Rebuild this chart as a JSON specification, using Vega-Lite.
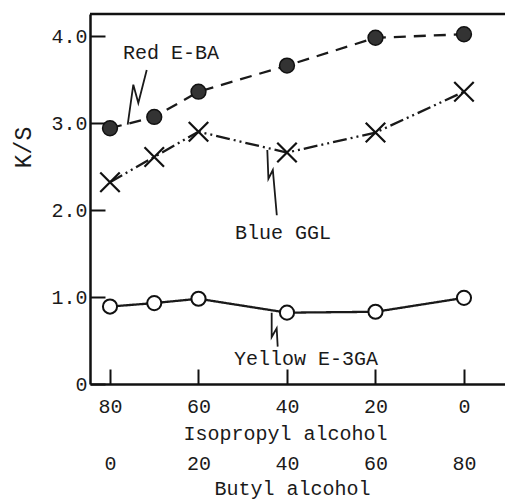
{
  "$schema": "https://vega.github.io/schema/vega-lite/v6.json",
  "width": 415,
  "height": 370,
  "autosize": {"type": "none"},
  "padding": {"left": 90, "top": 14, "right": 0, "bottom": 117},
  "background": "white",
  "config": {
    "view": {"stroke": null},
    "font": "Liberation Mono",
    "axis": {
      "labelFont": "Liberation Mono",
      "titleFont": "Liberation Mono",
      "labelFontSize": 20,
      "titleFontSize": 20,
      "titleFontWeight": "normal",
      "labelColor": "#1a1a1a",
      "titleColor": "#1a1a1a",
      "domainColor": "#111",
      "tickColor": "#111",
      "grid": false,
      "labelFlush": false,
      "labelOverlap": false
    }
  },
  "datasets": {
    "series": [
      {"series": "Red E-BA", "iso": 80, "ks": 2.94},
      {"series": "Red E-BA", "iso": 70, "ks": 3.07},
      {"series": "Red E-BA", "iso": 60, "ks": 3.36},
      {"series": "Red E-BA", "iso": 40, "ks": 3.66},
      {"series": "Red E-BA", "iso": 20, "ks": 3.98},
      {"series": "Red E-BA", "iso": 0, "ks": 4.02},
      {"series": "Blue GGL", "iso": 80, "ks": 2.32},
      {"series": "Blue GGL", "iso": 70, "ks": 2.61},
      {"series": "Blue GGL", "iso": 60, "ks": 2.9},
      {"series": "Blue GGL", "iso": 40, "ks": 2.66},
      {"series": "Blue GGL", "iso": 20, "ks": 2.89},
      {"series": "Blue GGL", "iso": 0, "ks": 3.36},
      {"series": "Yellow E-3GA", "iso": 80, "ks": 0.89},
      {"series": "Yellow E-3GA", "iso": 70, "ks": 0.93},
      {"series": "Yellow E-3GA", "iso": 60, "ks": 0.98},
      {"series": "Yellow E-3GA", "iso": 40, "ks": 0.82},
      {"series": "Yellow E-3GA", "iso": 20, "ks": 0.83},
      {"series": "Yellow E-3GA", "iso": 0, "ks": 0.99}
    ],
    "labels": [
      {"label": "Red E-BA", "iso": 66.2, "ks": 3.8},
      {"label": "Blue GGL", "iso": 40.9, "ks": 1.73},
      {"label": "Yellow E-3GA", "iso": 35.7, "ks": 0.29}
    ],
    "leaders": [
      {"grp": "r", "ord": 1, "iso": 76.0, "ks": 2.98},
      {"grp": "r", "ord": 2, "iso": 74.73, "ks": 3.44},
      {"grp": "r", "ord": 3, "iso": 73.6, "ks": 3.23},
      {"grp": "r", "ord": 4, "iso": 71.7, "ks": 3.61},
      {"grp": "b", "ord": 1, "iso": 44.45, "ks": 2.69},
      {"grp": "b", "ord": 2, "iso": 44.2, "ks": 2.36},
      {"grp": "b", "ord": 3, "iso": 43.2, "ks": 2.46},
      {"grp": "b", "ord": 4, "iso": 42.3, "ks": 1.94},
      {"grp": "y", "ord": 1, "iso": 43.46, "ks": 0.82},
      {"grp": "y", "ord": 2, "iso": 43.46, "ks": 0.54},
      {"grp": "y", "ord": 3, "iso": 42.33, "ks": 0.64},
      {"grp": "y", "ord": 4, "iso": 42.1, "ks": 0.43}
    ],
    "frame": [{"top": 4.253}]
  },
  "layer": [
    {
      "data": {"name": "series"},
      "mark": {"type": "line", "strokeWidth": 2.3, "color": "#1a1a1a"},
      "encoding": {
        "x": {
          "field": "iso", "type": "quantitative",
          "scale": {"domain": [-9.27, 84.52], "reverse": true, "nice": false, "zero": false},
          "axis": {
            "orient": "bottom",
            "values": [80, 60, 40, 20, 0],
            "format": "d",
            "tickSize": -15,
            "tickWidth": 2,
            "domainWidth": 2.5,
            "labelPadding": 27,
            "title": "Isopropyl alcohol",
            "titleX": 195,
            "titleY": 49,
            "titleBaseline": "middle",
            "titleAlign": "center"
          }
        },
        "y": {
          "field": "ks", "type": "quantitative",
          "scale": {"domain": [0, 4.253], "nice": false, "zero": false},
          "axis": {
            "values": [0, 1, 2, 3, 4],
            "labelExpr": "datum.value == 0 ? '0' : format(datum.value, '.1f')",
            "tickSize": -15,
            "tickWidth": 2,
            "domainWidth": 2.5,
            "labelPadding": 18,
            "title": "K/S",
            "titleFontSize": 23,
            "titleX": -67,
            "titleY": 133,
            "titleAngle": -90,
            "titleBaseline": "middle",
            "titleAlign": "center"
          }
        },
        "detail": {"field": "series"},
        "strokeDash": {
          "field": "series", "type": "nominal",
          "scale": {"domain": ["Red E-BA", "Blue GGL", "Yellow E-3GA"], "range": [[12, 8], [14, 4, 2, 4, 2, 4], [1, 0]]},
          "legend": null
        }
      }
    },
    {
      "data": {"name": "leaders"},
      "mark": {"type": "line", "strokeWidth": 1.8, "color": "#1a1a1a"},
      "encoding": {
        "x": {"field": "iso", "type": "quantitative", "scale": {"domain": [-9.27, 84.52], "reverse": true, "nice": false, "zero": false}, "axis": null},
        "y": {"field": "ks", "type": "quantitative"},
        "detail": {"field": "grp"},
        "order": {"field": "ord"}
      }
    },
    {
      "data": {"name": "series"},
      "transform": [{"filter": "datum.series == 'Red E-BA'"}],
      "mark": {"type": "point", "shape": "circle", "size": 220, "fill": "#333", "stroke": "#111", "strokeWidth": 1.5, "opacity": 1},
      "encoding": {
        "x": {"field": "iso", "type": "quantitative", "scale": {"domain": [-9.27, 84.52], "reverse": true, "nice": false, "zero": false}, "axis": null},
        "y": {"field": "ks", "type": "quantitative"}
      }
    },
    {
      "data": {"name": "series"},
      "transform": [{"filter": "datum.series == 'Blue GGL'"}],
      "mark": {"type": "point", "shape": "M-1,-1L1,1M-1,1L1,-1", "size": 380, "filled": false, "stroke": "#111", "strokeWidth": 2.2, "opacity": 1},
      "encoding": {
        "x": {"field": "iso", "type": "quantitative", "scale": {"domain": [-9.27, 84.52], "reverse": true, "nice": false, "zero": false}, "axis": null},
        "y": {"field": "ks", "type": "quantitative"}
      }
    },
    {
      "data": {"name": "series"},
      "transform": [{"filter": "datum.series == 'Yellow E-3GA'"}],
      "mark": {"type": "point", "shape": "circle", "size": 200, "fill": "white", "stroke": "#111", "strokeWidth": 2, "opacity": 1},
      "encoding": {
        "x": {"field": "iso", "type": "quantitative", "scale": {"domain": [-9.27, 84.52], "reverse": true, "nice": false, "zero": false}, "axis": null},
        "y": {"field": "ks", "type": "quantitative"}
      }
    },
    {
      "data": {"name": "frame"},
      "mark": {"type": "rule", "strokeWidth": 2.5, "color": "#111"},
      "encoding": {
        "y": {"field": "top", "type": "quantitative"}
      }
    },
    {
      "data": {"name": "labels"},
      "mark": {"type": "text", "fontSize": 20, "font": "Liberation Mono", "align": "center", "baseline": "middle", "color": "#1a1a1a"},
      "encoding": {
        "x": {
          "field": "iso", "type": "quantitative",
          "scale": {"domain": [-9.27, 84.52], "reverse": true, "nice": false, "zero": false},
          "axis": {
            "orient": "bottom",
            "values": [80, 60, 40, 20, 0],
            "labelExpr": "format(80 - datum.value, 'd')",
            "ticks": false,
            "domain": false,
            "labelPadding": 69,
            "title": "Butyl alcohol",
            "titleX": 202,
            "titleY": 104,
            "titleBaseline": "middle",
            "titleAlign": "center"
          }
        },
        "y": {"field": "ks", "type": "quantitative"},
        "text": {"field": "label"}
      }
    }
  ],
  "resolve": {"axis": {"x": "independent"}}
}
